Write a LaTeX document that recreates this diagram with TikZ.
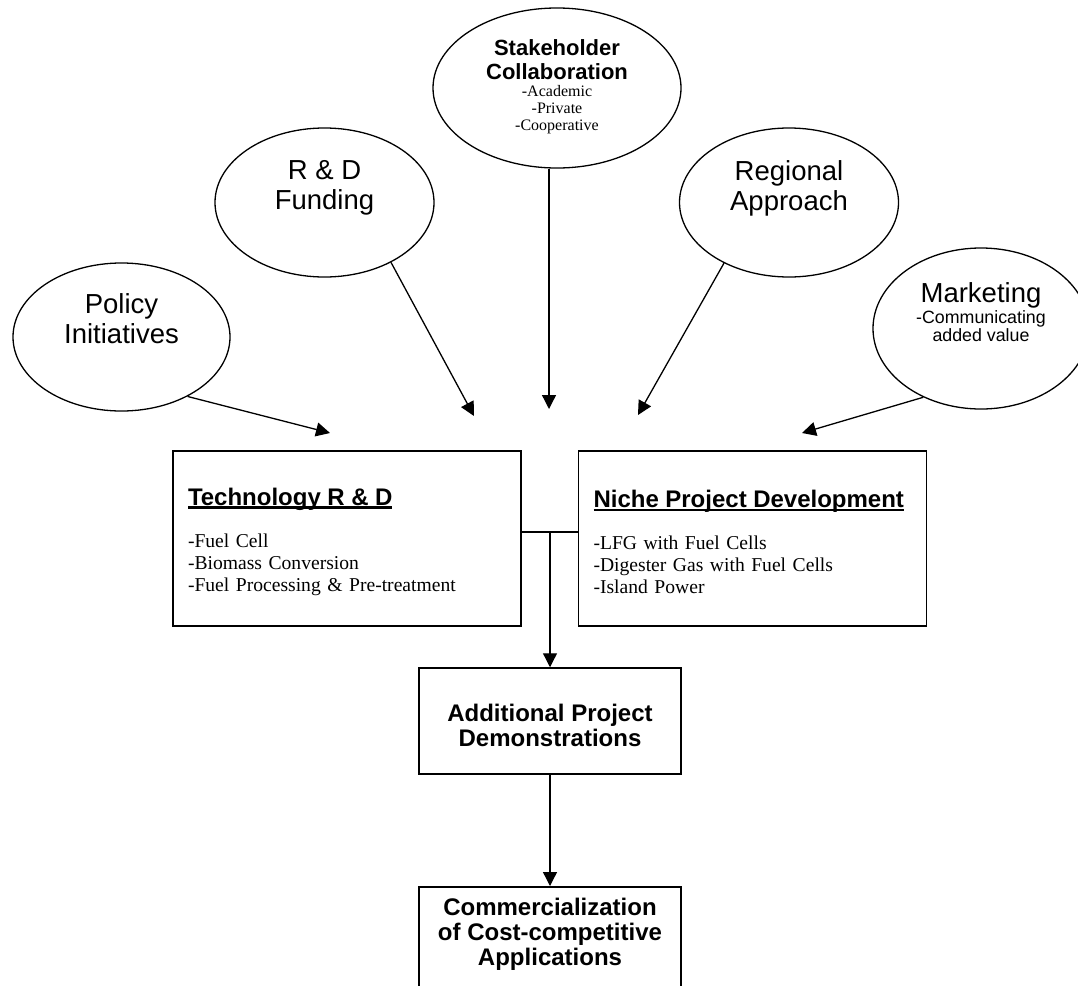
\documentclass[tikz,border=0pt]{standalone}
\usepackage{fontspec}
\setmainfont{Liberation Serif}
\setsansfont{Liberation Sans}
\usetikzlibrary{positioning, shapes, arrows.meta}

\newcommand{\headfont}{\sffamily\bfseries\fontsize{24}{25}\selectfont}
\newcommand{\headline}[1]{\setbox0\hbox{#1}\rlap{\rule[-4pt]{\wd0}{2.6pt}}\box0}

\begin{document}
\begin{tikzpicture}[
        x=1pt, y=-1pt,
        bubble/.style={draw, ellipse, line width=1.3pt, inner sep=0pt},
        bigtext/.style={align=center, font=\sffamily\fontsize{27.5}{30}\selectfont},
        box/.style={draw, rectangle, line width=1.5pt, minimum width=348pt, minimum height=175pt, inner xsep=15pt, text width=318pt, align=left, font=\fontsize{19.6}{22}\selectfont},
        step box/.style={draw, rectangle, line width=1.5pt, minimum width=262pt, align=center, font=\headfont},
        arrow/.style={-{Triangle[length=14pt, width=14pt]}, line width=1.3pt}
    ]
        \useasboundingbox (0,0) rectangle (1078,985);
        \clip (0,0) rectangle (1078,985);

        % Bubbles
        \node[bubble, minimum width=217pt, minimum height=148pt] (policy) at (121.5,337) {};
        \node[bigtext] (policy-txt) at (121.5,319) {Policy\\Initiatives};
        \node[bubble, minimum width=219pt, minimum height=149pt] (funding) at (324.5,202.5) {};
        \node[bigtext] (funding-txt) at (324.5,188) {R \& D\\Funding};
        \node[bubble, minimum width=248pt, minimum height=160pt] (stake) at (557,88) {};
        \node[align=center, font=\fontsize{16}{17}\selectfont] (stake-txt) at (557,87)
            {{\fontsize{22}{24}\sffamily\bfseries Stakeholder}\\[7pt]{\fontsize{22}{24}\sffamily\bfseries Collaboration}\\-Academic\\-Private\\-Cooperative};
        \node[bubble, minimum width=219pt, minimum height=149pt] (region) at (789,202.5) {};
        \node[bigtext] (region-txt) at (789,188) {Regional\\Approach};
        \node[bubble, minimum width=216pt, minimum height=161pt] (market) at (981,328.5) {};
        \node[align=center, font=\sffamily\fontsize{17.8}{18.5}\selectfont] (market-txt) at (981,312)
            {{\fontsize{27.5}{30}\selectfont Marketing}\\[1.5pt]-Communicating\\added value};

        % Boxes
        \node[box] (tech) at (347,538.5) {\rule{0pt}{23.4pt}{\headfont\headline{Technology R \& D}}\\[20pt]-Fuel Cell\\-Biomass Conversion\\-Fuel Processing \& Pre-treatment};
        \node[box] (niche) at (752.5,538.5) {\rule{0pt}{23.4pt}{\headfont\headline{Niche Project Development}}\\[20pt]-LFG with Fuel Cells\\-Digester Gas with Fuel Cells\\-Island Power};
        \node[step box, minimum height=106pt] (demo) at (550,721) {\rule{0pt}{26.4pt}Additional Project\\Demonstrations};
        \node[step box, anchor=north, inner ysep=11.5pt, text depth=80pt] (commerce) at (550,886) {Commercialization\\of Cost-competitive\\Applications};

        % Arrow tips
        \coordinate (policy-tip) at (330,433);
        \coordinate (funding-tip) at (474,416);
        \coordinate (stake-tip) at (549,409);
        \coordinate (region-tip) at (638,415);
        \coordinate (market-tip) at (802,433);
        \coordinate (join) at (550,532);

        % Arrows
        \draw[arrow] (policy.-42.5) -- (policy-tip);
        \draw[arrow] (funding.-42.7) -- (funding-tip);
        \draw[arrow] (stake-tip |- stake.south) -- (stake-tip);
        \draw[arrow] (region.-137.5) -- (region-tip);
        \draw[arrow] (market.-130.4) -- (market-tip);

        % Merge and flow down
        \draw[line width=1.3pt] (tech.east |- join) -- (niche.west |- join);
        \draw[arrow] (join) -- (demo.north);
        \draw[arrow] (demo.south) -- (commerce.north);
    \end{tikzpicture}
\end{document}
